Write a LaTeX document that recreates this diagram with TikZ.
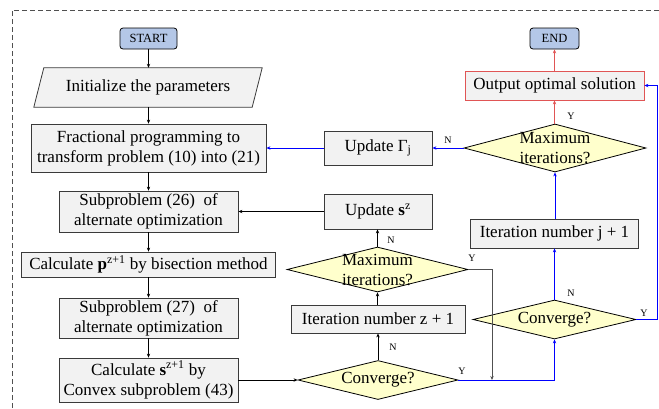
\documentclass[tikz,border=0pt]{standalone}
\usepackage{fontspec}
\setmainfont{Liberation Serif}
\usetikzlibrary{arrows.meta,shapes.geometric,calc}
\definecolor{boxfill}{HTML}{F2F2F2}
\definecolor{boxline}{HTML}{3A3A3A}
\definecolor{termfill}{HTML}{B4C7E7}
\definecolor{diafill}{HTML}{FFFFCC}
\definecolor{redline}{HTML}{E05555}
\definecolor{blueline}{HTML}{0000FF}
\definecolor{frameline}{HTML}{505050}
\tikzset{
  box/.style={draw=boxline, fill=boxfill, line width=0.8pt, inner sep=0pt, align=center,
    font=\fontsize{17}{20}\selectfont},
  term/.style={draw=black, fill=termfill, line width=0.8pt, rounded corners=3pt, inner sep=0pt,
    font=\fontsize{12.5}{15}\selectfont},
  dia/.style={diamond, draw=black, fill=diafill, line width=0.8pt, inner sep=0pt},
  diatext/.style={align=center, inner sep=0pt, font=\fontsize{17}{20}\selectfont},
  lab/.style={inner sep=0pt, font=\fontsize{10}{12}\selectfont},
  arr/.style={-{Stealth[length=4pt,width=3.4pt]}, line width=0.8pt, draw=black},
  barr/.style={-{Stealth[length=4pt,width=3.4pt]}, line width=1pt, draw=blueline},
  rarr/.style={-{Stealth[length=4pt,width=3.4pt]}, line width=1pt, draw=redline},
}
\begin{document}
\begin{tikzpicture}[x=1pt,y=-1pt]
\useasboundingbox (0,0) rectangle (659,408);
% dashed frame
\draw[frameline, line width=0.7pt, dash pattern=on 5pt off 3pt] (12,408) -- (12,10) -- (659,10);

% left column
\node[term, minimum width=57pt, minimum height=21pt] (start) at (148.5,38.5) {START};
\node[inner sep=0pt, minimum width=218pt, minimum height=39pt] (init) at (148,87.5) {};
\draw[draw=boxline, fill=boxfill, line width=0.8pt]
  ($(init.north west)+(5,0)$) -- ($(init.north east)+(5,0)$) --
  ($(init.south east)+(-5,0)$) -- ($(init.south west)+(-5,0)$) -- cycle;
\node[inner sep=0pt, font=\fontsize{17}{20}\selectfont] at (init) {Initialize the parameters};
\node[box, minimum width=235pt, minimum height=48pt] (frac) at (148.5,148) {Fractional programming to\\transform problem (10) into (21)};
\node[box, minimum width=179pt, minimum height=41pt] (sub26) at (148.5,211.5) {Subproblem (26)\ \ of\\alternate optimization};
\node[box, minimum width=254pt, minimum height=25pt] (calcp) at (148.5,264.5) {Calculate \textbf{p}\textsuperscript{z+1} by bisection method};
\node[box, minimum width=179pt, minimum height=40pt] (sub27) at (148.5,318) {Subproblem (27)\ \ of\\alternate optimization};
\node[box, minimum width=179pt, minimum height=44pt] (calcs) at (148.5,380) {Calculate \textbf{s}\textsuperscript{z+1} by\\Convex subproblem (43)};

% middle column
\node[dia, minimum width=160pt, minimum height=39pt] (conv1) at (378,380) {};
\node[diatext] at (conv1) {Converge?};
\node[box, minimum width=174pt, minimum height=28pt] (iterz) at (378,319) {Iteration number z + 1};
\node[dia, minimum width=181pt, minimum height=45pt] (max1) at (377.5,269.5) {};
\node[diatext] at (max1) {Maximum\\iterations?};
\node[box, minimum width=108pt, minimum height=35pt] (upds) at (378,211.5) {Update \textbf{s}\textsuperscript{z}};
\node[box, minimum width=108pt, minimum height=34pt] (updg) at (378,148) {Update Γ\textsubscript{j}};

% right column
\node[term, minimum width=49pt, minimum height=21pt] (end) at (554.5,38.5) {END};
\node[box, draw=redline, minimum width=179pt, minimum height=29pt] (out) at (554.5,85.5) {Output optimal solution};
\node[dia, minimum width=182pt, minimum height=48pt] (max2) at (555,148) {};
\node[diatext] at (max2) {Maximum\\iterations?};
\node[box, minimum width=168pt, minimum height=29pt] (iterj) at (554.5,233.5) {Iteration number j + 1};
\node[dia, minimum width=163pt, minimum height=39pt] (conv2) at (554.5,319.5) {};
\node[diatext] at (conv2) {Converge?};

% black connectors
\draw[arr] (start) -- (start |- init.north);
\draw[arr] (init.south -| start) -- (start |- frac.north);
\draw[arr] (frac) -- (frac |- sub26.north);
\draw[arr] (sub26) -- (sub26 |- calcp.north);
\draw[arr] (calcp.south -| sub26) -- (sub26 |- sub27.north);
\draw[arr] (sub27) -- (sub27 |- calcs.north);
\draw[arr] (calcs.east) -- (conv1.west);
\draw[arr] (conv1.north) -- (conv1 |- iterz.south);
\draw[arr] (iterz.north -| max1) -- (max1.south);
\draw[arr] (max1.north) -- (max1 |- upds.south);
\draw[arr] (upds.west) -- (sub26.east);
\coordinate (m1turn) at (492,269.5);
\coordinate (m1end) at (492,380);
\draw[arr, draw=frameline] (max1.east) -- (m1turn) -- (m1end);

% blue connectors
\coordinate (c1turn) at (554.5,380);
\draw[barr] (conv1.east) -- (c1turn) -- (conv2.south);
\draw[barr] (conv2.north) -- (conv2 |- iterj.south);
\draw[barr] (iterj.north -| max2) -- (max2.south);
\draw[barr] (max2.west) -- (updg.east);
\draw[barr] (updg.west) -- (frac.east);
\coordinate (c2a) at (657.5,319.5);
\coordinate (c2b) at (657.5,85.5);
\draw[barr] (conv2.east) -- (c2a) -- (c2b) -- (out.east);

% red connectors
\draw[rarr] (max2.north -| out) -- (out.south);
\draw[rarr] (out.north) -- (end.south);

% labels
\node[lab] at (393,347) {N};
\node[lab] at (462,371) {Y};
\node[lab] at (391,240) {N};
\node[lab] at (472,258) {Y};
\node[lab] at (571,293) {N};
\node[lab] at (644,313) {Y};
\node[lab] at (448,140) {N};
\node[lab] at (571,116) {Y};
\end{tikzpicture}
\end{document}
